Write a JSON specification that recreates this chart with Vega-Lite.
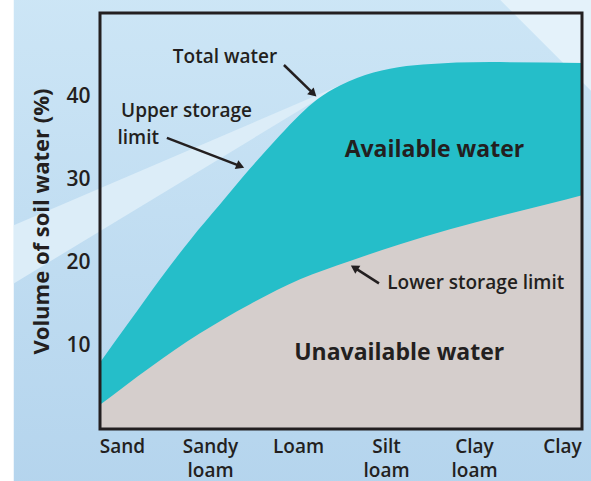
{
  "$schema": "https://vega.github.io/schema/vega-lite/v6.json",
  "width": 482,
  "height": 416,
  "autosize": {"type": "none"},
  "padding": {"left": 100, "top": 13, "right": 9, "bottom": 52},
  "background": "white",
  "config": {
    "view": {"stroke": null},
    "font": "Open Sans"
  },
  "datasets": {
    "upper": [
      {"x": -0.25, "y": 8.0}, {"x": 0.091, "y": 13.0}, {"x": 0.432, "y": 18.0},
      {"x": 0.773, "y": 22.7}, {"x": 1.114, "y": 27.0}, {"x": 1.455, "y": 31.3},
      {"x": 1.795, "y": 35.3}, {"x": 2.023, "y": 37.8}, {"x": 2.216, "y": 39.6},
      {"x": 2.477, "y": 41.3}, {"x": 2.67, "y": 42.2}, {"x": 3.045, "y": 43.3},
      {"x": 3.42, "y": 43.8}, {"x": 4.182, "y": 44.1}, {"x": 5.227, "y": 44.0}
    ],
    "lower": [
      {"x": -0.25, "y": 2.9}, {"x": 0.318, "y": 7.4}, {"x": 0.886, "y": 11.5},
      {"x": 1.455, "y": 15.0}, {"x": 2.023, "y": 18.0}, {"x": 2.591, "y": 20.2},
      {"x": 3.159, "y": 22.2}, {"x": 3.727, "y": 24.0}, {"x": 4.295, "y": 25.6},
      {"x": 4.864, "y": 27.1}, {"x": 5.227, "y": 28.1}
    ]
  },
  "encoding": {
    "x": {
      "field": "x", "type": "quantitative",
      "scale": {"domain": [-0.25, 5.227], "nice": false, "zero": false},
      "axis": {
        "title": null, "values": [0, 1, 2, 3, 4, 5], "grid": false, "domain": false, "ticks": false, "zindex": 3,
        "labelExpr": "datum.value == 0 ? 'Sand' : datum.value == 1 ? ['Sandy', 'loam'] : datum.value == 2 ? 'Loam' : datum.value == 3 ? ['Silt', 'loam'] : datum.value == 4 ? ['Clay', 'loam'] : 'Clay'",
        "labelFontSize": 19, "labelFontWeight": 600, "labelColor": "#231f20", "labelPadding": 8,
        "labelLineHeight": 24, "labelOverlap": false, "labelFlush": false, "labelBaseline": "top"
      }
    },
    "y": {
      "field": "y", "type": "quantitative",
      "scale": {"domain": [0, 50], "nice": false, "zero": false},
      "axis": {
        "title": "Volume of soil water (%)", "values": [10, 20, 30, 40], "grid": false, "domain": false, "ticks": false, "zindex": 3,
        "labelFontSize": 21, "labelFontWeight": 600, "labelColor": "#231f20", "labelPadding": 10,
        "titleFontSize": 22, "titleFontWeight": 700, "titleColor": "#231f20", "titlePadding": 12
      }
    }
  },
  "layer": [
    {
      "data": {"values": [{"x": -1.23, "x2": 6.2, "y": -8, "y2": 53}]},
      "mark": {"type": "rect", "clip": false, "color": {"gradient": "linear", "x1": 0, "y1": 0, "x2": 0, "y2": 1, "stops": [{"offset": 0, "color": "#cde6f6"}, {"offset": 1, "color": "#b4d4ed"}]}},
      "encoding": {"x2": {"field": "x2"}, "y2": {"field": "y2"}}
    },
    {
      "data": {"values": [{"x": -1.23, "y": 24.5, "y2": 17.5}, {"x": 2.5, "y": 41.4, "y2": 41.4}]},
      "mark": {"type": "area", "clip": false, "color": "#dcedf8"},
      "encoding": {"y2": {"field": "y2"}}
    },
    {
      "data": {"values": [{"x": 4.295, "y": 51.6, "y2": 53}, {"x": 5.4, "y": 39.9, "y2": 53}]},
      "mark": {"type": "area", "clip": false, "color": "#e4f2fa"},
      "encoding": {"y2": {"field": "y2"}}
    },
    {
      "data": {"name": "upper"},
      "mark": {"type": "area", "interpolate": "monotone", "color": "#25bec9"},
      "encoding": {"y2": {"datum": 0}}
    },
    {
      "data": {"name": "lower"},
      "mark": {"type": "area", "interpolate": "monotone", "color": "#d5cecc"},
      "encoding": {"y2": {"datum": 0}}
    },
    {
      "data": {"values": [{"x": -0.25, "x2": 5.227, "y": 0, "y2": 50}]},
      "mark": {"type": "rect", "fill": null, "filled": false, "stroke": "#231f20", "strokeWidth": 3},
      "encoding": {"x2": {"field": "x2"}, "y2": {"field": "y2"}}
    },
    {
      "data": {"values": [
        {"x": 1.84, "y": 43.75, "x2": 2.175, "y2": 40.3},
        {"x": 0.51, "y": 35.0, "x2": 1.345, "y2": 31.6},
        {"x": 2.92, "y": 17.5, "x2": 2.64, "y2": 19.4}
      ]},
      "mark": {"type": "rule", "color": "#231f20", "strokeWidth": 2.5},
      "encoding": {"x2": {"field": "x2"}, "y2": {"field": "y2"}}
    },
    {
      "data": {"values": [{"x": 2.175, "y": 40.3}]},
      "mark": {"type": "point", "shape": "triangle-up", "filled": true, "color": "#231f20", "size": 90, "angle": 133, "opacity": 1}
    },
    {
      "data": {"values": [{"x": 1.345, "y": 31.6}]},
      "mark": {"type": "point", "shape": "triangle-up", "filled": true, "color": "#231f20", "size": 90, "angle": 112, "opacity": 1}
    },
    {
      "data": {"values": [{"x": 2.64, "y": 19.4}]},
      "mark": {"type": "point", "shape": "triangle-up", "filled": true, "color": "#231f20", "size": 90, "angle": 302, "opacity": 1}
    },
    {
      "data": {"values": [
        {"x": 1.17, "y": 44.7, "label": "Total water"},
        {"x": 0.733, "y": 38.2, "label": "Upper storage"},
        {"x": 0.185, "y": 35.0, "label": "limit"},
        {"x": 4.02, "y": 17.5, "label": "Lower storage limit"}
      ]},
      "mark": {"type": "text", "fontSize": 19, "fontWeight": 600, "color": "#231f20", "baseline": "middle", "align": "center"},
      "encoding": {"text": {"field": "label"}}
    },
    {
      "data": {"values": [
        {"x": 3.55, "y": 33.5, "label": "Available water"},
        {"x": 3.15, "y": 9.1, "label": "Unavailable water"}
      ]},
      "mark": {"type": "text", "fontSize": 23, "fontWeight": 700, "color": "#231f20", "baseline": "middle", "align": "center"},
      "encoding": {"text": {"field": "label"}}
    }
  ]
}
